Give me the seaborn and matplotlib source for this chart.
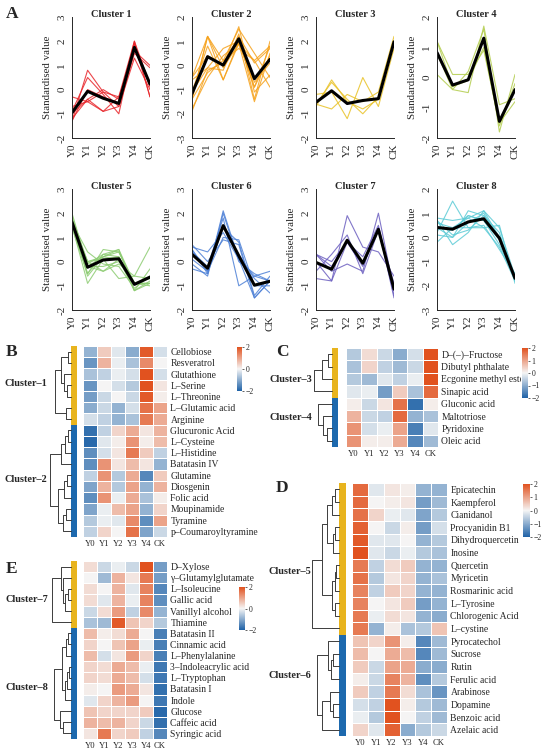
import numpy as np
import pandas as pd
import matplotlib
matplotlib.use("Agg")
import matplotlib.pyplot as plt
import seaborn as sns
from matplotlib.colors import LinearSegmentedColormap, ListedColormap, Normalize
from matplotlib.cm import ScalarMappable
from matplotlib.patches import Rectangle

W, H = 550, 751

stages = ["Y0", "Y1", "Y2", "Y3", "Y4", "CK"]

# ---- cluster members: names, standardised values per stage, row dendrogram (a, b, height)
c1_names = ["Cellobiose", "Resveratrol", "Glutathione", "L–Serine", "L–Threonine",
            "L–Glutamic acid", "Arginine"]
c1_vals = [[-0.9, 0.5, -0.2, -1.0, 1.9, -0.3],
           [-1.3, 0.8, -0.1, -0.7, 1.3, 0.0],
           [-0.7, -0.5, -0.1, -0.3, 2.0, -0.3],
           [-1.3, 0.0, -0.3, -0.6, 2.0, 0.2],
           [-1.2, -0.4, 0.0, -0.4, 1.9, 0.1],
           [-1.0, -0.4, -0.9, -0.3, 1.6, 1.0],
           [-0.3, -0.5, -0.9, -0.7, 1.5, 0.9]]
c1_tree = [(0, 1, 0.15), (3, 4, 0.18), (2, 8, 0.32), (5, 6, 0.22), (7, 9, 0.48), (11, 10, 0.76)]

c2_names = ["Glucuronic Acid", "L–Cysteine", "L–Histidine", "Batatasin IV", "Glutamine",
            "Diosgenin", "Folic acid", "Moupinamide", "Tyramine", "p–Coumaroyltyramine"]
c2_vals = [[-1.8, -0.5, 0.4, 0.9, 0.2, 0.8],
           [-1.9, -0.2, 0.1, 1.2, 0.1, 0.7],
           [-1.4, -0.3, 0.2, 1.5, 0.5, -0.5],
           [-1.4, 1.2, 0.2, 0.7, 0.2, -0.9],
           [-0.5, 1.2, -0.6, 0.9, -1.5, 0.5],
           [-1.1, 0.8, -0.6, 1.0, -0.9, 0.8],
           [-1.4, 1.2, -0.1, 0.9, -0.7, 0.1],
           [-1.1, -0.1, 0.7, 1.0, -0.9, 0.4],
           [-0.6, -0.1, -0.2, 1.3, -1.4, 1.0],
           [-0.5, 0.4, 0.0, 1.6, -1.1, -0.4]]
c2_tree = [(0, 1, 0.15), (10, 2, 0.3), (11, 3, 0.5), (4, 5, 0.2), (13, 6, 0.35),
           (7, 8, 0.25), (15, 9, 0.4), (14, 16, 0.6), (12, 17, 1.0)]

c3_names = ["D–(–)–Fructose", "Dibutyl phthalate", "Ecgonine methyl ester", "Sinapic acid"]
c3_vals = [[-0.6, 0.3, -0.4, -1.0, -0.3, 2.0],
           [-0.7, 0.4, -0.5, -0.8, -0.4, 2.0],
           [-0.6, -0.8, -0.2, -0.5, -0.1, 2.2],
           [-0.2, -0.1, -1.2, 0.5, -0.7, 1.7]]
c3_tree = [(0, 1, 0.25), (4, 2, 0.55), (5, 3, 1.0)]

c4_names = ["Gluconic acid", "Maltotriose", "Pyridoxine", "Oleic acid"]
c4_vals = [[0.1, -0.4, 0.2, 1.6, -1.8, 0.1],
           [0.8, -0.4, -0.5, 1.7, -0.9, -0.7],
           [1.2, -0.3, -0.1, 1.0, -1.6, -0.2],
           [1.2, 0.1, 0.1, 0.9, -1.5, -0.8]]
c4_tree = [(2, 3, 0.3), (1, 4, 0.48), (0, 5, 0.78)]

c5_names = ["Epicatechin", "Kaempferol", "Cianidanol", "Procyanidin B1", "Dihydroquercetin",
            "Inosine", "Quercetin", "Myricetin", "Rosmarinic acid", "L–Tyrosine",
            "Chlorogenic Acid", "L–cystine"]
c5_vals = [[1.7, -0.2, 0.2, 0.1, -0.9, -0.9],
           [1.7, 0.0, 0.1, 0.2, -1.2, -0.8],
           [1.6, 0.4, -0.1, -0.2, -1.1, -0.6],
           [1.8, 0.0, -0.4, 0.1, -1.2, -0.3],
           [1.9, -0.2, -0.2, 0.0, -0.9, -0.6],
           [2.0, -0.2, -0.4, -0.1, -0.6, -0.7],
           [1.5, -0.5, 0.3, 0.5, -0.9, -0.9],
           [1.6, -0.6, 0.2, 0.4, -0.9, -0.7],
           [1.4, -0.5, 0.5, 0.4, -0.9, -0.9],
           [1.4, 0.0, 0.2, 0.5, -1.2, -0.9],
           [1.5, -0.1, 0.3, 0.2, -0.9, -1.0],
           [1.5, -0.9, 0.1, -0.7, -0.6, 0.6]]
c5_tree = [(0, 1, 0.13), (12, 2, 0.26), (3, 4, 0.12), (14, 5, 0.2), (13, 15, 0.45),
           (6, 7, 0.08), (17, 8, 0.14), (9, 10, 0.13), (18, 19, 0.23), (16, 20, 0.64),
           (21, 11, 1.0)]

c6_names = ["Pyrocatechol", "Sucrose", "Rutin", "Ferulic acid", "Arabinose", "Dopamine",
            "Benzoic acid", "Azelaic acid"]
c6_vals = [[0.6, 0.4, 1.2, 0.1, -1.5, -0.8],
           [0.7, 0.0, 0.9, 0.7, -1.5, -0.8],
           [0.5, -0.4, 1.0, 0.9, -1.0, -1.0],
           [0.1, -0.4, 1.4, 0.8, -1.4, -0.6],
           [0.5, -0.5, 1.5, 0.3, -0.7, -1.3],
           [-0.3, -0.5, 2.1, 0.1, -0.6, -0.8],
           [-0.1, -0.6, 2.0, 0.0, -0.5, -0.8],
           [0.4, -0.2, 1.8, -1.0, -0.6, -0.4]]
c6_tree = [(1, 2, 0.2), (8, 3, 0.28), (0, 9, 0.41), (5, 6, 0.22), (4, 11, 0.33),
           (12, 7, 0.64), (10, 13, 0.83)]

c7_names = ["D–Xylose", "γ–Glutamylglutamate", "L–Isoleucine", "Gallic acid",
            "Vanillyl alcohol", "Thiamine"]
c7_vals = [[0.3, -0.4, -0.1, -0.4, 2.0, -1.2],
           [0.0, -0.8, 0.8, 0.2, 1.5, -1.2],
           [0.3, 0.0, 0.8, -0.2, 1.4, -1.5],
           [0.3, -0.2, 0.8, -0.1, 1.4, -1.4],
           [-0.4, 0.3, 1.1, -0.5, 1.3, -0.9],
           [-0.7, -0.8, 1.9, 0.6, 0.4, -0.6]]
c7_tree = [(2, 3, 0.15), (6, 4, 0.3), (1, 7, 0.42), (0, 8, 0.55), (9, 5, 1.0)]

c8_names = ["Batatasin II", "Cinnamic acid", "L–Phenylalanine", "3–Indoleacrylic acid",
            "L–Tryptophan", "Batatasin I", "Indole", "Glucose", "Caffeic acid", "Syringic acid"]
c8_vals = [[0.7, 0.1, 0.3, 0.9, 0.0, -1.6],
           [0.4, 0.0, 0.6, 1.0, -0.1, -1.6],
           [0.7, -0.3, 0.2, 1.1, 0.4, -1.6],
           [0.4, 0.3, 0.9, 0.7, -0.1, -1.7],
           [0.4, 0.3, 0.9, 0.7, -0.3, -1.7],
           [0.1, 0.0, 1.1, 0.9, 0.2, -1.8],
           [-0.2, 0.4, 0.8, 1.1, 0.0, -1.7],
           [0.6, 0.4, 0.4, 0.4, 0.5, -1.9],
           [0.8, 0.7, 0.8, 0.4, -0.4, -1.8],
           [0.2, 1.5, 0.4, 0.5, -0.5, -1.5]]
c8_tree = [(0, 1, 0.15), (10, 2, 0.28), (3, 4, 0.12), (12, 5, 0.2), (13, 6, 0.3),
           (11, 14, 0.5), (8, 9, 0.42), (7, 16, 0.58), (15, 17, 0.92)]

clusters = [(c1_names, c1_vals, c1_tree), (c2_names, c2_vals, c2_tree),
            (c3_names, c3_vals, c3_tree), (c4_names, c4_vals, c4_tree),
            (c5_names, c5_vals, c5_tree), (c6_names, c6_vals, c6_tree),
            (c7_names, c7_vals, c7_tree), (c8_names, c8_vals, c8_tree)]

line_colors = ["#e8262b", "#f6a21c", "#e9c227", "#b3cd4e",
               "#8dcc72", "#4d80d6", "#6c5fc0", "#5ccbd6"]
line_ylims = [(-2, 3), (-3, 2), (-2, 3), (-2, 2), (-2, 3), (-2, 3), (-2, 3), (-3, 2)]

sns.set_style("white")
plt.rcParams["font.family"] = ["Liberation Serif", "DejaVu Serif"]
plt.rcParams["axes.linewidth"] = 0.7

fig = plt.figure(figsize=(W / 100, H / 100), dpi=100)


def px_axes(x0, y0, x1, y1):
    return fig.add_axes([x0 / W, 1 - y1 / H, (x1 - x0) / W, (y1 - y0) / H])


# ---------------- A: cluster profiles
col_left = [72, 192, 316, 437]
row_top = [17, 189]
for k, (names, vals, _) in enumerate(clusters):
    r, c = divmod(k, 4)
    ax = px_axes(col_left[c], row_top[r], col_left[c] + 78, row_top[r] + 121)
    df = pd.DataFrame(vals, columns=stages)
    df["metabolite"] = names
    long = df.melt(id_vars="metabolite", var_name="stage", value_name="value")
    long["x"] = long["stage"].map({s: i for i, s in enumerate(stages)})
    sns.lineplot(data=long, x="x", y="value", units="metabolite", estimator=None,
                 color=line_colors[k], lw=0.8, alpha=0.85, ax=ax, legend=False)
    sns.lineplot(data=long, x="x", y="value", estimator="mean", errorbar=None,
                 color="black", lw=2.2, ax=ax)
    lo, hi = line_ylims[k]
    ax.set_xlim(0, 5)
    ax.set_ylim(lo, hi)
    ax.set_xticks(range(len(stages)))
    ax.set_xticklabels(stages, rotation=90)
    yt = list(range(lo, hi + 1))
    ax.set_yticks(yt)
    ax.set_yticklabels([str(v) for v in yt], rotation=90, va="center")
    ax.tick_params(axis="both", length=2.5, width=0.6, pad=1.5, labelsize=8, color="#333333")
    sns.despine(ax=ax)
    ax.spines["left"].set_bounds(lo, hi)
    ax.spines["bottom"].set_bounds(0, 5)
    ax.set_xlabel("")
    ax.set_ylabel("Standardised value", fontsize=7.8)
    ax.set_title(f"Cluster {k + 1}", fontsize=7.5, fontweight="bold", pad=0)

fig.text(12.5 / W, 1 - 14 / H, "A", ha="center", va="center", fontsize=12.5, fontweight="bold")

# ---------------- B–E: heatmaps
heat_cmap = LinearSegmentedColormap.from_list("zs", ["#1f62a7", "#f5f5f5", "#e1521f"])
gold, blue = "#e8b41e", "#1d69ae"


def draw_tree(ax, tree, n, offset):
    pos = {i: offset + i + 0.5 for i in range(n)}
    hgt = {i: 0.0 for i in range(n)}
    for j, (a, b, h) in enumerate(tree):
        ax.plot([hgt[a], h, h, hgt[b]], [pos[a], pos[a], pos[b], pos[b]],
                color="#3c3c3c", lw=0.7, clip_on=False)
        pos[n + j] = (pos[a] + pos[b]) / 2
        hgt[n + j] = h


def heat_panel(letter, members, heat_box, tree_x0, bar_x, cbar_box, cbar_ticks,
               label_right, label_ys, letter_xy, clip_right=None):
    x0, y0, x1, y1 = heat_box
    names = sum([clusters[m][0] for m in members], [])
    vals = sum([clusters[m][1] for m in members], [])
    df = pd.DataFrame(vals, index=names, columns=stages)

    ax = px_axes(x0, y0, x1, y1)
    sns.heatmap(df, cmap=heat_cmap, vmin=-2, vmax=2, cbar=False,
                linewidths=0.6, linecolor="white", xticklabels=True, yticklabels=True, ax=ax)
    ax.yaxis.tick_right()
    ax.tick_params(axis="y", length=0, pad=2.5, labelsize=6.9, labelrotation=0)
    ax.tick_params(axis="x", length=0, pad=2, labelsize=6.2, labelrotation=0)
    ax.set_xlabel("")
    ax.set_ylabel("")
    if clip_right is not None:
        for lab in ax.get_yticklabels():
            lab.set_clip_path(Rectangle((0, 0), clip_right / W, 1, transform=fig.transFigure))

    groups = sum([[i] * len(clusters[m][0]) for i, m in enumerate(members)], [])
    bax = px_axes(bar_x[0], y0, bar_x[1], y1)
    sns.heatmap(pd.DataFrame({"cluster": groups}), cmap=ListedColormap([gold, blue]),
                vmin=-0.5, vmax=1.5, cbar=False, xticklabels=False, yticklabels=False, ax=bax)

    tax = px_axes(tree_x0, y0, bar_x[0], y1)
    offset = 0
    for m in members:
        draw_tree(tax, clusters[m][2], len(clusters[m][0]), offset)
        offset += len(clusters[m][0])
    tax.set_xlim(1.0, 0)
    tax.set_ylim(offset, 0)
    tax.axis("off")

    for m, ly in zip(members, label_ys):
        fig.text(label_right / W, 1 - ly / H, f"Cluster–{m + 1}", ha="right", va="center",
                 fontsize=7.4, fontweight="bold")

    cax = px_axes(*cbar_box)
    cb = fig.colorbar(ScalarMappable(norm=Normalize(-2, 2), cmap=heat_cmap), cax=cax,
                      ticks=cbar_ticks)
    cb.outline.set_visible(False)
    cax.tick_params(labelsize=5.6, length=1.5, width=0.5, pad=1)

    fig.text(letter_xy[0] / W, 1 - letter_xy[1] / H, letter, ha="center", va="center",
             fontsize=12.5, fontweight="bold")


heat_panel("B", [0, 1], (83, 346, 167, 537), 50, (71, 77), (237, 347, 242, 391),
           [-2, 0, 2], 47, (384, 480), (12, 352))
heat_panel("C", [2, 3], (346, 348, 438, 447), 314, (332, 338), (522, 348, 528, 398),
           [-2, -1, 0, 1, 2], 312, (380, 417), (282, 352), clip_right=521)
heat_panel("D", [4, 5], (352, 483, 447, 736), 312, (338.5, 346), (523, 484, 530, 537),
           [-2, -1, 0, 1, 2], 311, (572, 676), (282, 488))
heat_panel("E", [6, 7], (83, 561, 167, 739), 52, (71, 77), (239, 587, 245, 630),
           [-2, 0, 2], 48, (599, 687), (12, 569))

fig.savefig("out.png", dpi=100)
